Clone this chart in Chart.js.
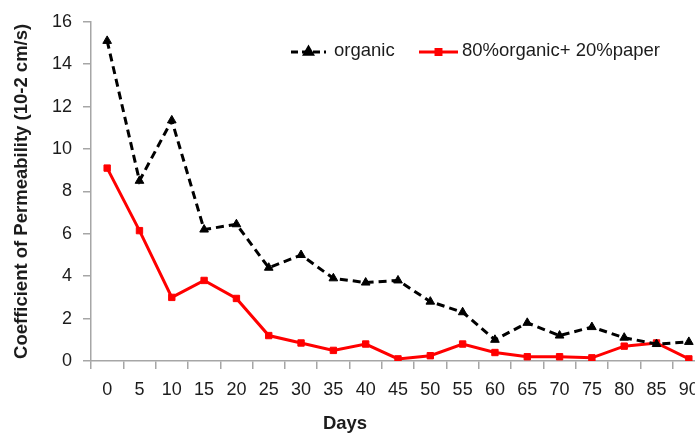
<!DOCTYPE html>
<html>
<head>
<meta charset="utf-8">
<script src="https://cdn.jsdelivr.net/npm/chart.js@4/dist/chart.umd.min.js"></script>
<style>
  html, body { margin: 0; padding: 0; background: #fff; overflow: hidden; }
  #wrap { position: relative; width: 712px; height: 438px; }
</style>
</head>
<body>
<div id="wrap"><canvas id="chart"></canvas></div>
<script>
// Sampling days
const days = ['0','5','10','15','20','25','30','35','40','45','50','55','60','65','70','75','80','85','90'];
// Coefficient of permeability (10-2 cm/s)
const organic = [15.1, 8.5, 11.35, 6.2, 6.45, 4.4, 5.0, 3.9, 3.7, 3.8, 2.8, 2.3, 1.0, 1.8, 1.2, 1.6, 1.1, 0.8, 0.9];
const organicPaper = [9.1, 6.15, 3.0, 3.8, 2.95, 1.2, 0.85, 0.5, 0.8, 0.1, 0.25, 0.8, 0.4, 0.2, 0.2, 0.15, 0.7, 0.85, 0.1];
const seriesNames = ['organic', '80%organic+ 20%paper'];
const yTicks = [0, 2, 4, 6, 8, 10, 12, 14, 16];
const xTitle = 'Days';
const yTitle = 'Coefficient of Permeability (10-2 cm/s)';

const FONT = '"Liberation Sans", Arial, Helvetica, sans-serif';
const TEXT = '#1c1c1c';
const AXIS = '#a6a6a6';

// Legend drawn inside the plot (top right) and the x-axis caption
const overlay = {
  id: 'overlay',
  afterDraw(chart) {
    const ctx = chart.ctx;
    const y = 52;
    const items = [
      { ds: chart.data.datasets[0], x0: 291, x1: 326, tx: 334, dash: [7, 4], r: 4.5 },
      { ds: chart.data.datasets[1], x0: 419, x1: 458, tx: 462, dash: [], r: 3.5 }
    ];
    ctx.save();
    items.forEach(it => {
      const ds = it.ds;
      ctx.strokeStyle = ds.borderColor;
      ctx.lineWidth = ds.borderWidth;
      ctx.setLineDash(it.dash);
      ctx.beginPath();
      ctx.moveTo(it.x0, y);
      ctx.lineTo(it.x1, y);
      ctx.stroke();
      ctx.setLineDash([]);
      const cx = (it.x0 + it.x1) / 2;
      ctx.fillStyle = ds.pointBackgroundColor;
      ctx.strokeStyle = ds.pointBorderColor;
      Chart.helpers.drawPoint(ctx, {
        pointStyle: ds.pointStyle, radius: it.r, borderWidth: 1
      }, cx, y);
      ctx.fillStyle = TEXT;
      ctx.font = '18.5px ' + FONT;
      ctx.textBaseline = 'middle';
      ctx.textAlign = 'left';
      ctx.fillText(ds.label, it.tx, y - 1);
    });
    // x-axis caption
    ctx.font = 'bold 18.5px ' + FONT;
    ctx.textAlign = 'center';
    ctx.textBaseline = 'middle';
    ctx.fillText(xTitle, chart.chartArea.left + 254, 424);
    ctx.restore();
  }
};

new Chart(document.getElementById('chart'), {
  type: 'line',
  data: {
    labels: days,
    datasets: [
      {
        label: seriesNames[0],
        data: organic,
        borderColor: '#000',
        backgroundColor: '#000',
        borderWidth: 3,
        borderDash: [8, 5],
        pointStyle: 'triangle',
        pointRadius: 5,
        pointBackgroundColor: '#000',
        pointBorderColor: '#000',
        pointBorderWidth: 1,
        tension: 0,
        fill: false
      },
      {
        label: seriesNames[1],
        data: organicPaper,
        borderColor: '#ff0000',
        backgroundColor: '#ff0000',
        borderWidth: 3,
        pointStyle: 'rect',
        pointRadius: 4.5,
        pointBackgroundColor: '#ff0000',
        pointBorderColor: '#ff0000',
        pointBorderWidth: 1,
        tension: 0,
        fill: false
      }
    ]
  },
  options: {
    responsive: true,
    maintainAspectRatio: false,
    animation: false,
    layout: { padding: { top: 19, right: 7, bottom: 0, left: 0 } },
    plugins: {
      legend: { display: false },
      tooltip: { enabled: false }
    },
    scales: {
      x: {
        type: 'category',
        offset: true,
        afterFit(s) { s.height = 77; },
        grid: {
          offset: true,
          drawOnChartArea: false,
          drawTicks: true,
          tickLength: 8,
          color: AXIS,
          lineWidth: 1.5
        },
        border: { display: true, color: AXIS, width: 1.5 },
        ticks: {
          color: TEXT,
          font: { family: FONT, size: 18 },
          padding: 10,
          maxRotation: 0,
          autoSkip: false
        },
        title: { display: false }
      },
      y: {
        min: yTicks[0],
        max: yTicks[yTicks.length - 1],
        afterFit(s) { s.width = 91; },
        afterBuildTicks(s) { s.ticks = yTicks.map(v => ({ value: v })); },
        grid: {
          drawOnChartArea: false,
          drawTicks: true,
          tickLength: 8,
          color: AXIS,
          lineWidth: 1.5
        },
        border: { display: true, color: AXIS, width: 1.5 },
        ticks: {
          color: TEXT,
          font: { family: FONT, size: 18 },
          padding: 11
        },
        title: {
          display: true,
          text: yTitle,
          color: TEXT,
          font: { family: FONT, size: 18.5, weight: 'bold' },
          padding: { top: 11, bottom: 0 }
        }
      }
    }
  },
  plugins: [overlay]
});
</script>
</body>
</html>
